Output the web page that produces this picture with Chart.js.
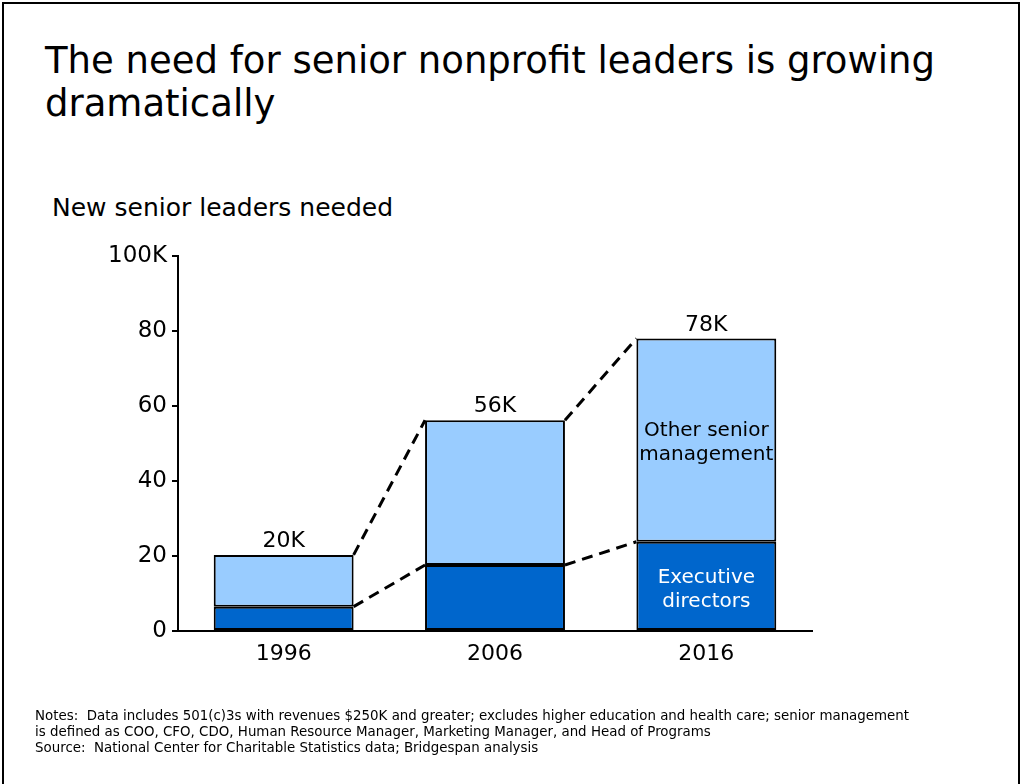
<!DOCTYPE html>
<html>
<head>
<meta charset="utf-8">
<script src="https://cdn.jsdelivr.net/npm/chart.js@4.4.1/dist/chart.umd.min.js"></script>
<style>
  html, body { margin: 0; padding: 0; background: #fff; }
  #page { position: relative; width: 1021px; height: 784px; overflow: hidden; }
  #frame { position: absolute; left: 2px; top: 2px; width: 1018px; height: 800px; border: 2px solid #000; box-sizing: border-box; }
  #title { position: absolute; left: 45px; top: 39px; width: 965px; font-family: "DejaVu Sans", Verdana, sans-serif; font-size: 37px; line-height: 43px; color: #000; }
  #ylab { position: absolute; left: 52px; top: 193px; font-family: "DejaVu Sans", Verdana, sans-serif; font-size: 25px; color: #000; }
  #notes { position: absolute; left: 35px; top: 708px; font-family: "DejaVu Sans", Verdana, sans-serif; font-size: 13.4px; line-height: 16px; color: #000; white-space: nowrap; }
  canvas { position: absolute; left: 0; top: 0; }
</style>
</head>
<body>
<div id="page">
  <div id="frame"></div>
  <div id="title">The need for senior nonprofit leaders is growing dramatically</div>
  <div id="ylab">New senior leaders needed</div>
  <canvas id="chart" width="1021" height="784"></canvas>
  <div id="notes">Notes:&nbsp; Data includes 501(c)3s with revenues $250K and greater; excludes higher education and health care; senior management<br>is defined as COO, CFO, CDO, Human Resource Manager, Marketing Manager, and Head of Programs<br>Source:&nbsp; National Center for Charitable Statistics data; Bridgespan analysis</div>
</div>
<script>
// Datos del gráfico (miles de líderes)
const years = ['1996', '2006', '2016'];
const execDirectors = [6.5, 17.6, 23.8];
const otherSenior = [13.8, 38.6, 54.2];
const totalLabels = ['20K', '56K', '78K'];
const yTicks = [0, 20, 40, 60, 80, 100];

const FONT = '"DejaVu Sans", Verdana, sans-serif';

// Etiquetas de total encima de cada barra y textos dentro de la última
const labelsPlugin = {
    id: 'labels',
    afterDatasetsDraw(chart) {
        const ctx = chart.ctx;
        const top = chart.getDatasetMeta(1).data;
        const bottom = chart.getDatasetMeta(0).data;
        ctx.save();
        ctx.font = '22px ' + FONT;
        ctx.fillStyle = '#000';
        ctx.textAlign = 'center';
        ctx.textBaseline = 'alphabetic';
        top.forEach((bar, i) => {
            ctx.fillText(totalLabels[i], bar.x, bar.y - 8);
        });

        // Textos de la serie en la barra de 2016
        const last = years.length - 1;
        const tb = top[last], bb = bottom[last];
        ctx.font = '20px ' + FONT;
        ctx.fillStyle = '#000';
        ctx.fillText('Other senior', tb.x, 436);
        ctx.fillText('management', tb.x, 460);
        ctx.fillStyle = '#fff';
        ctx.fillText('Executive', bb.x, 583);
        ctx.fillText('directors', bb.x, 607);
        ctx.restore();
    }
};

// Líneas punteadas entre barras
const connectorPlugin = {
    id: 'connectors',
    afterDatasetsDraw(chart) {
        const ctx = chart.ctx;
        ctx.save();
        ctx.strokeStyle = '#000';
        ctx.lineWidth = 3;
        ctx.setLineDash([11, 7]);
        [0, 1].forEach(d => {
            const bars = chart.getDatasetMeta(d).data;
            for (let i = 0; i < bars.length - 1; i++) {
                const a = bars[i], b = bars[i + 1];
                ctx.beginPath();
                ctx.moveTo(a.x + a.width / 2, a.y);
                ctx.lineTo(b.x - b.width / 2, b.y);
                ctx.stroke();
            }
        });
        ctx.restore();
    }
};

const chart = new Chart(document.getElementById('chart').getContext('2d'), {
    type: 'bar',
    data: {
        labels: years,
        datasets: [{
            label: 'Executive directors',
            data: execDirectors,
            backgroundColor: '#0066CC',
            borderColor: '#000',
            borderWidth: 2,
            borderSkipped: false,
            categoryPercentage: 1,
            barPercentage: 0.662
        }, {
            label: 'Other senior management',
            data: otherSenior,
            backgroundColor: '#99CCFF',
            borderColor: '#000',
            borderWidth: 2,
            borderSkipped: false,
            categoryPercentage: 1,
            barPercentage: 0.662
        }]
    },
    options: {
        responsive: false,
        animation: false,
        layout: { padding: { left: 0, top: 256, right: 209, bottom: 103 } },
        plugins: { legend: { display: false }, tooltip: { enabled: false } },
        scales: {
            x: {
                stacked: true,
                grid: { display: false },
                border: { display: true, color: '#000', width: 2 },
                ticks: { color: '#000', font: { family: FONT, size: 22 }, padding: 2 },
                afterFit(scale) { scale.height = 50; }
            },
            y: {
                stacked: true,
                min: 0,
                max: 100,
                afterBuildTicks(scale) { scale.ticks = yTicks.map(v => ({ value: v })); },
                grid: { drawOnChartArea: false, drawTicks: true, tickLength: 6, color: '#000', lineWidth: 2 },
                border: { display: true, color: '#000', width: 2 },
                ticks: {
                    color: '#000',
                    font: { family: FONT, size: 23 },
                    padding: 5,
                    callback: v => v === 100 ? '100K' : v
                },
                afterFit(scale) { scale.width = 178; }
            }
        }
    },
    plugins: [labelsPlugin, connectorPlugin]
});
</script>
</body>
</html>
